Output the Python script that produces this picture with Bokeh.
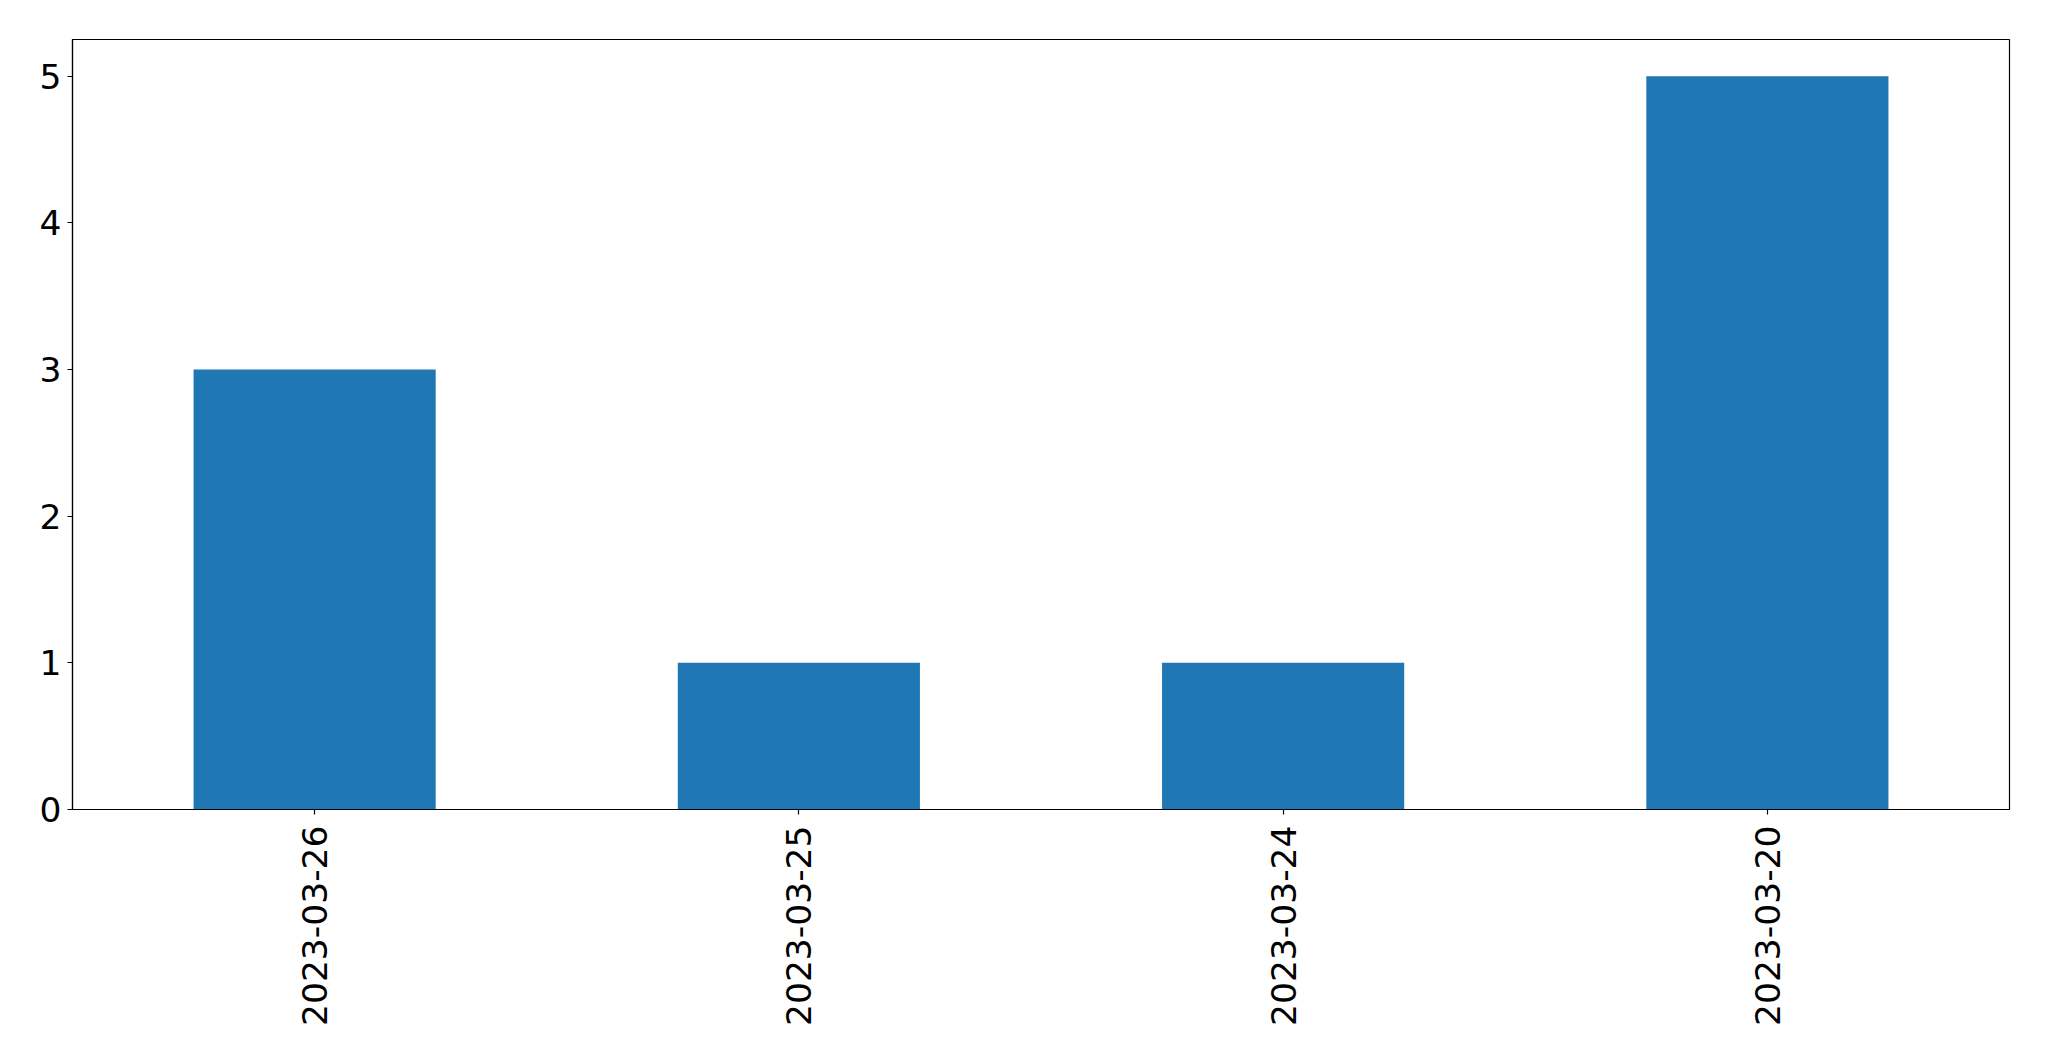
import math
from bokeh.plotting import figure
from bokeh.models import Range1d, FactorRange, FixedTicker, ColumnDataSource
from bokeh.embed import file_html
from bokeh.resources import INLINE

dates = ["2023-03-26", "2023-03-25", "2023-03-24", "2023-03-20"]
counts = [3, 1, 1, 5]
y_ticks = [0, 1, 2, 3, 4, 5]

FONT = "DejaVu Sans"
FS = "34.5px"

src = ColumnDataSource(dict(x=dates, top=counts))

p = figure(
    x_range=FactorRange(*dates, range_padding=0),
    y_range=Range1d(0, 5.25),
    frame_width=1937, frame_height=770,
    min_border_left=72, min_border_top=39, min_border_right=20, min_border_bottom=10,
    output_backend="svg", toolbar_location=None,
    background_fill_color="white", border_fill_color="white",
)

p.vbar(x="x", top="top", bottom=0, width=0.5, source=src,
       fill_color="#1f77b4", line_color=None)

p.xgrid.visible = False
p.ygrid.visible = False
p.outline_line_color = "black"
p.outline_line_width = 1.2
p.outline_line_alpha = 1

for ax in (p.xaxis[0], p.yaxis[0]):
    ax.axis_line_color = "black"
    ax.axis_line_width = 1.2
    ax.major_tick_line_color = "black"
    ax.major_tick_line_width = 1.2
    ax.major_tick_out = 5
    ax.major_tick_in = 0
    ax.minor_tick_line_color = None
    ax.major_label_text_font = FONT
    ax.major_label_text_font_size = FS
    ax.major_label_text_color = "black"

p.yaxis[0].ticker = FixedTicker(ticks=y_ticks)
p.yaxis[0].major_label_standoff = 6
p.xaxis[0].major_label_orientation = math.pi / 2
p.xaxis[0].major_label_standoff = 11
p.xaxis[0].group_text_font_size = "0px"

open("out.html", "w").write(file_html(p, INLINE))
